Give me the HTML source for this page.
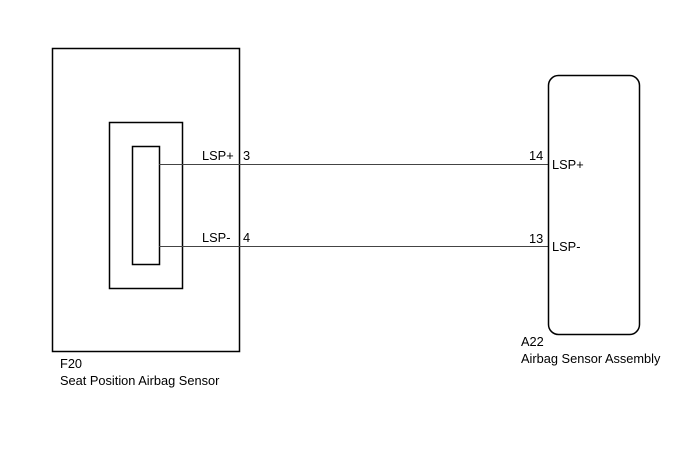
<!DOCTYPE html>
<html><head><style>body{margin:0;background:#fff}</style></head><body>
<svg width="688" height="463" xmlns="http://www.w3.org/2000/svg" font-family="Liberation Sans, Arial, sans-serif" font-size="12.8" fill="#000">
<rect x="52.5" y="48.5" width="187" height="303" fill="none" stroke="#000" stroke-width="1.5"/>
<rect x="109.5" y="122.5" width="73" height="166" fill="none" stroke="#000" stroke-width="1.5"/>
<rect x="132.5" y="146.5" width="27" height="118" fill="none" stroke="#000" stroke-width="1.5"/>
<line x1="159" y1="164.5" x2="548" y2="164.5" stroke="#444" stroke-width="1"/>
<line x1="159" y1="246.5" x2="548" y2="246.5" stroke="#444" stroke-width="1"/>
<rect x="548.5" y="75.5" width="91" height="259" rx="10" fill="none" stroke="#000" stroke-width="1.5"/>
<text x="202" y="160">LSP+</text><text x="243" y="160">3</text>
<text x="202" y="242">LSP-</text><text x="243" y="242">4</text>
<text x="529" y="160">14</text><text x="552" y="169">LSP+</text>
<text x="529" y="243">13</text><text x="552" y="251">LSP-</text>
<text x="60" y="368">F20</text><text x="60" y="385">Seat Position Airbag Sensor</text>
<text x="521" y="346">A22</text><text x="521" y="363">Airbag Sensor Assembly</text>
</svg>
</body></html>
